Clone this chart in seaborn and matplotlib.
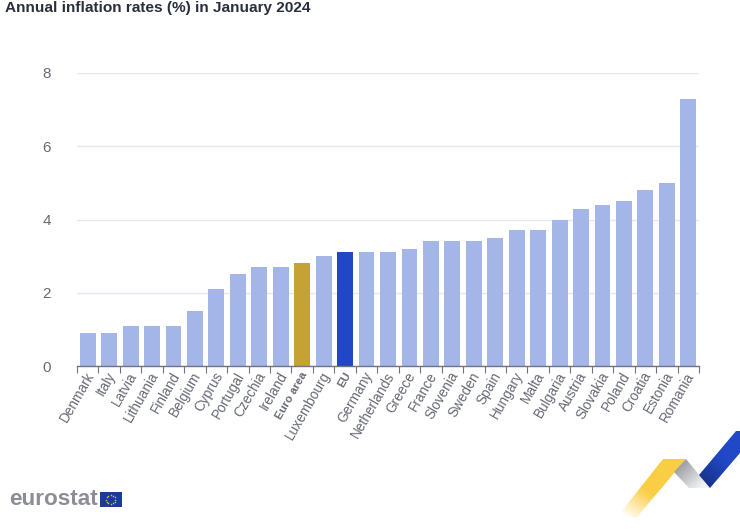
import numpy as np
import pandas as pd
import matplotlib
matplotlib.use('Agg')
import matplotlib.pyplot as plt
import seaborn as sns
from matplotlib.colors import LinearSegmentedColormap
from matplotlib.patches import Polygon, Rectangle
from matplotlib.transforms import ScaledTranslation

countries = ['Denmark', 'Italy', 'Latvia', 'Lithuania', 'Finland', 'Belgium', 'Cyprus', 'Portugal',
             'Czechia', 'Ireland', 'Euro area', 'Luxembourg', 'EU', 'Germany', 'Netherlands', 'Greece',
             'France', 'Slovenia', 'Sweden', 'Spain', 'Hungary', 'Malta', 'Bulgaria', 'Austria',
             'Slovakia', 'Poland', 'Croatia', 'Estonia', 'Romania']
rates = [0.9, 0.9, 1.1, 1.1, 1.1, 1.5, 2.1, 2.5, 2.7, 2.7, 2.8, 3.0, 3.1, 3.1, 3.1, 3.2, 3.4, 3.4, 3.4,
         3.5, 3.7, 3.7, 4.0, 4.3, 4.4, 4.5, 4.8, 5.0, 7.3]
y_ticks = [0, 2, 4, 6, 8]

W, H = 740, 530
BASE = '#a4b6e8'
special = {'Euro area': '#c4a332', 'EU': '#2147c4'}
palette = {c: special.get(c, BASE) for c in countries}

sns.set_theme(style='white')
plt.rcParams['font.family'] = ['Liberation Sans', 'DejaVu Sans']

df = pd.DataFrame({'country': countries, 'rate': rates})

fig = plt.figure(figsize=(W / 100, H / 100), dpi=100)
ax = fig.add_axes([77 / W, 1 - 366 / H, 622 / W, 293 / H])
sns.barplot(data=df, x='country', y='rate', hue='country', palette=palette, legend=False,
            width=0.74, saturation=1, linewidth=0, ax=ax, zorder=3)

ax.set_xlim(-0.5, len(countries) - 0.5)
ax.set_ylim(0, 8)
ax.set_xlabel('')
ax.set_ylabel('')
ax.set_yticks(y_ticks)
ax.grid(axis='y', color='#e6e6ee', lw=1, zorder=0)
ax.grid(axis='x', visible=False)
for s in ['top', 'right', 'left']:
    ax.spines[s].set_visible(False)
ax.spines['bottom'].set_color('#6f7380')
ax.spines['bottom'].set_linewidth(1)
ax.spines['bottom'].set_zorder(5)

ax.tick_params(axis='y', length=0, pad=22, labelsize=11, labelcolor='#666a75')
for t in ax.get_yticklabels():
    t.set_ha('center')

# ticks sit on the category edges, labels on the centres
ax.set_xticks(np.arange(len(countries)))
ax.set_xticklabels(countries, rotation=60, ha='right', va='center', rotation_mode='anchor',
                   fontsize=9.8, color='#666a75')
ax.tick_params(axis='x', which='major', length=0, pad=5)
ax.set_xticks(np.arange(len(countries) + 1) - 0.5, minor=True)
ax.tick_params(axis='x', which='minor', length=5, width=0.8, color='#6f7380', bottom=True)
shift = ScaledTranslation(3 / 100, 0, fig.dpi_scale_trans)
for t in ax.get_xticklabels():
    t.set_transform(t.get_transform() + shift)
    if t.get_text() in special:
        t.set_fontweight('bold')
        t.set_fontsize(8.2)

fig.text(5 / W, 1 - 8 / H, 'Annual inflation rates (%) in January 2024', fontsize=11.1,
         fontweight='bold', color='#2a2f3d', va='center', ha='left')

# page furniture, everything below is in pixel coordinates
deco = fig.add_axes([0, 0, 1, 1], zorder=10)
deco.set_xlim(0, W)
deco.set_ylim(H, 0)
deco.axis('off')
deco.patch.set_alpha(0)


def ribbon(points, colors, start, end):
    # fill a polygon with a linear gradient running from start to end
    x0, x1 = min(p[0] for p in points), max(p[0] for p in points)
    y0, y1 = min(p[1] for p in points), max(p[1] for p in points)
    xx, yy = np.meshgrid(np.linspace(x0, x1, 120), np.linspace(y0, y1, 120))
    dx, dy = end[0] - start[0], end[1] - start[1]
    g = ((xx - start[0]) * dx + (yy - start[1]) * dy) / (dx * dx + dy * dy)
    cmap = LinearSegmentedColormap.from_list('r', colors)
    im = deco.imshow(np.clip(g, 0, 1), extent=(x0, x1, y1, y0), cmap=cmap, vmin=0, vmax=1,
                     aspect='auto', interpolation='bilinear')
    im.set_clip_path(Polygon(points, closed=True, transform=deco.transData))


ribbon([(663, 459), (686, 459), (637, 517), (617, 517)],
       [(1, 0.81, 0.27, 0), (0.98, 0.81, 0.27, 1)], (625, 517), (645, 490))
ribbon([(686, 459), (710, 488), (689, 488), (674, 472)],
       ['#8f9196', '#f2f3f4'], (676, 462), (700, 488))
ribbon([(736, 431), (740, 431), (740, 453), (710, 488), (699, 475)],
       ['#15307f', '#2148c6'], (702, 488), (725, 460))

deco.text(9, 499.5, 'eurostat', fontsize=16.2, fontweight='bold', color='#8b8e96', va='center', ha='left')
deco.add_patch(Rectangle((100, 492), 21.5, 15, color='#1c3a96', lw=0, zorder=5))
angles = np.linspace(0, 2 * np.pi, 12, endpoint=False)
deco.scatter(110.7 + 4.5 * np.cos(angles), 499.5 + 4.5 * np.sin(angles), s=1.2, color='#d9c24a', lw=0, zorder=6)
deco.set_xlim(0, W)
deco.set_ylim(H, 0)

fig.savefig('out.png', dpi=100)
